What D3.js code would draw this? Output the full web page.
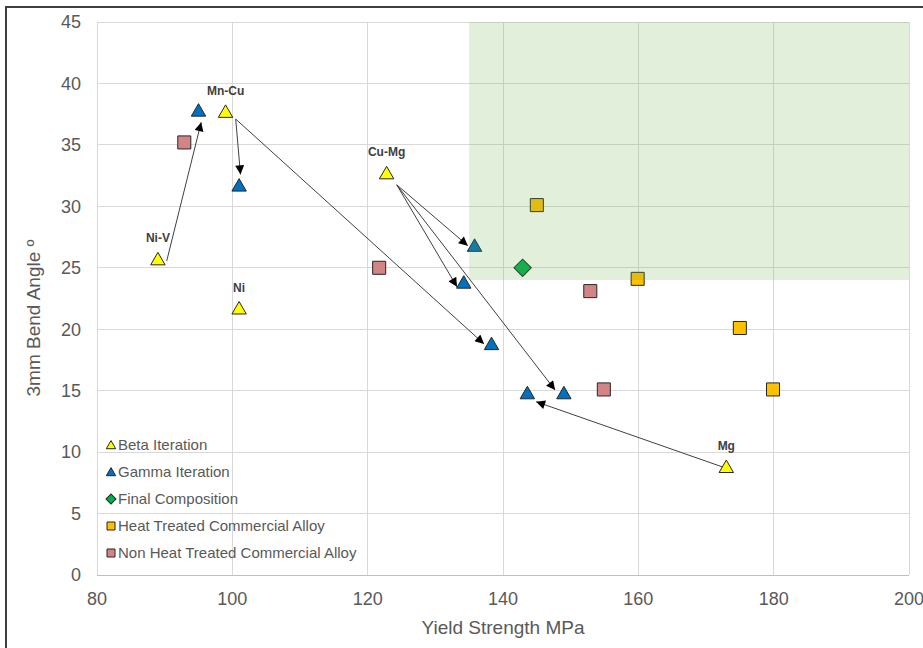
<!DOCTYPE html>
<html>
<head>
<meta charset="utf-8">
<script src="https://cdn.jsdelivr.net/npm/d3@7"></script>
<style>
  html, body { margin: 0; padding: 0; background: #fff; }
  svg { display: block; font-family: "Liberation Sans", Arial, sans-serif; }
</style>
</head>
<body>
<svg id="chart" width="923" height="648"></svg>
<script>
// ---------- data ----------
const xTicks = [80, 100, 120, 140, 160, 180, 200];
const yTicks = [0, 5, 10, 15, 20, 25, 30, 35, 40, 45];

const betaNames = ["Ni-V", "Mn-Cu", "Ni", "Cu-Mg", "Mg"];
const betaX = [89, 99, 101, 122.8, 173];
const betaY = [25.7, 37.7, 21.7, 32.7, 8.8];

const gammaX = [95, 101, 135.8, 134.2, 138.3, 143.6, 149];
const gammaY = [37.8, 31.7, 26.8, 23.8, 18.8, 14.8, 14.8];

const finalX = [142.9];
const finalY = [25.0];

const heatX = [145, 159.9, 175, 179.9];
const heatY = [30.1, 24.1, 20.1, 15.1];

const nonHeatX = [92.9, 121.7, 152.9, 154.9];
const nonHeatY = [35.2, 25.0, 23.1, 15.1];

// arrows: [x1, y1, x2, y2] in data units
const arrowFromX = [90.3, 100.5, 100.5, 124.3, 124.3, 124.3, 172.4];
const arrowFromY = [25.55, 37.1, 37.1, 31.75, 31.75, 31.75, 8.8];
const arrowToX   = [95.4, 101.2, 137.2, 134.8, 133.2, 147.7, 144.9];
const arrowToY   = [36.85, 32.6, 18.8, 26.8, 23.45, 15.05, 14.1];

// target region
const regionX = [135, 200];
const regionY = [24, 45];

const legendLabels = ["Beta Iteration", "Gamma Iteration", "Final Composition",
                      "Heat Treated Commercial Alloy", "Non Heat Treated Commercial Alloy"];

// ---------- setup ----------
const svg = d3.select("#chart");
const x = d3.scaleLinear().domain([80, 200]).range([97, 909]);
const y = d3.scaleLinear().domain([0, 45]).range([575, 22]);

const textColor = "#595959";
const strokeDark = "#262626";

// outer frame
svg.append("rect").attr("x", 6).attr("y", 7).attr("width", 1000).attr("height", 1000)
  .attr("fill", "#fff").attr("stroke", "#404040").attr("stroke-width", 2);

// gridlines
const grid = svg.append("g");
grid.selectAll(".gy").data(yTicks).join("line")
  .attr("x1", x(80)).attr("x2", x(200))
  .attr("y1", d => y(d)).attr("y2", d => y(d))
  .attr("stroke", "#d9d9d9").attr("stroke-width", 1).attr("shape-rendering", "crispEdges");
grid.selectAll(".gx").data(xTicks).join("line")
  .attr("x1", d => x(d)).attr("x2", d => x(d))
  .attr("y1", y(0)).attr("y2", y(45))
  .attr("stroke", "#d9d9d9").attr("stroke-width", 1).attr("shape-rendering", "crispEdges");
// bottom axis line
svg.append("line").attr("x1", x(80)).attr("x2", x(200)).attr("y1", y(0)).attr("y2", y(0))
  .attr("stroke", "#bfbfbf").attr("stroke-width", 1).attr("shape-rendering", "crispEdges");

// tick labels
svg.append("g").selectAll("text").data(yTicks).join("text")
  .attr("x", 81).attr("y", d => y(d)).attr("dy", "0.35em")
  .attr("text-anchor", "end").attr("font-size", 18).attr("fill", textColor)
  .text(d => d);
svg.append("g").selectAll("text").data(xTicks).join("text")
  .attr("x", d => x(d)).attr("y", 605)
  .attr("text-anchor", "middle").attr("font-size", 18).attr("fill", textColor)
  .text(d => d);

// axis titles
svg.append("text").attr("x", 503).attr("y", 634).attr("text-anchor", "middle")
  .attr("font-size", 19).attr("fill", textColor).text("Yield Strength MPa");
svg.append("text").attr("transform", "translate(40,318) rotate(-90)")
  .attr("text-anchor", "middle").attr("font-size", 19).attr("fill", textColor)
  .text("3mm Bend Angle º");

// markers
const tri = d3.symbol().type(d3.symbolTriangle).size(90);
const sq = d3.symbol().type(d3.symbolSquare).size(170);
const dia = d3.symbol().type(d3.symbolSquare).size(150);

const pts = svg.append("g");
function drawSeries(xs, ys, gen, fill, rot, dy) {
  pts.append("g").selectAll("path").data(xs.map((v, i) => [v, ys[i]])).join("path")
    .attr("d", gen)
    .attr("transform", d => `translate(${x(d[0])},${y(d[1]) + (dy || 0)}) rotate(${rot || 0})`)
    .attr("fill", fill).attr("stroke", strokeDark).attr("stroke-width", 1);
}
drawSeries(nonHeatX, nonHeatY, sq, "#d38585");
drawSeries(heatX, heatY, sq, "#ffc000");
drawSeries(finalX, finalY, dia, "#00b050", 45);
drawSeries(gammaX, gammaY, tri, "#0070c0", 0, 1.5);
drawSeries(betaX, betaY, tri, "#ffff00", 0, 1.5);

// translucent target region
svg.append("rect")
  .attr("x", x(regionX[0])).attr("y", y(regionY[1]))
  .attr("width", x(regionX[1]) - x(regionX[0]))
  .attr("height", y(regionY[0]) - y(regionY[1]))
  .attr("fill", "#70ad47").attr("fill-opacity", 0.2);

// arrows
svg.append("defs").append("marker")
  .attr("id", "ah").attr("viewBox", "0 0 10 10").attr("refX", 10).attr("refY", 5)
  .attr("markerWidth", 10).attr("markerHeight", 9).attr("markerUnits", "userSpaceOnUse")
  .attr("orient", "auto")
  .append("path").attr("d", "M0,0 L10,5 L0,10 Z").attr("fill", "#000");

svg.append("g").selectAll("line").data(arrowFromX.map((v, i) => i)).join("line")
  .attr("x1", i => x(arrowFromX[i])).attr("y1", i => y(arrowFromY[i]))
  .attr("x2", i => x(arrowToX[i])).attr("y2", i => y(arrowToY[i]))
  .attr("stroke", "#404040").attr("stroke-width", 1)
  .attr("marker-end", "url(#ah)");

// point labels
svg.append("g").selectAll("text").data(betaNames).join("text")
  .attr("x", (d, i) => x(betaX[i])).attr("y", (d, i) => y(betaY[i]) - 21)
  .attr("dy", "0.35em").attr("text-anchor", "middle")
  .attr("font-size", 12).attr("font-weight", "bold").attr("fill", "#404040")
  .text(d => d);

// legend
const legendFills = ["#ffff00", "#0070c0", "#00b050", "#ffc000", "#d38585"];
const legendY = [445, 472, 499, 526, 553];
const lg = svg.append("g");
const ltri = d3.symbol().type(d3.symbolTriangle).size(38);
const lsq = d3.symbol().type(d3.symbolSquare).size(64);
const ldia = d3.symbol().type(d3.symbolSquare).size(50);
legendLabels.forEach((lab, i) => {
  const gen = i < 2 ? ltri : (i === 2 ? ldia : lsq);
  lg.append("path").attr("d", gen)
    .attr("transform", `translate(111,${legendY[i] + (i < 2 ? 1 : 0)}) rotate(${i === 2 ? 45 : 0})`)
    .attr("fill", legendFills[i]).attr("stroke", strokeDark).attr("stroke-width", 1);
  lg.append("text").attr("x", 118).attr("y", legendY[i]).attr("dy", "0.35em")
    .attr("font-size", 15).attr("fill", textColor).text(lab);
});
</script>
</body>
</html>
